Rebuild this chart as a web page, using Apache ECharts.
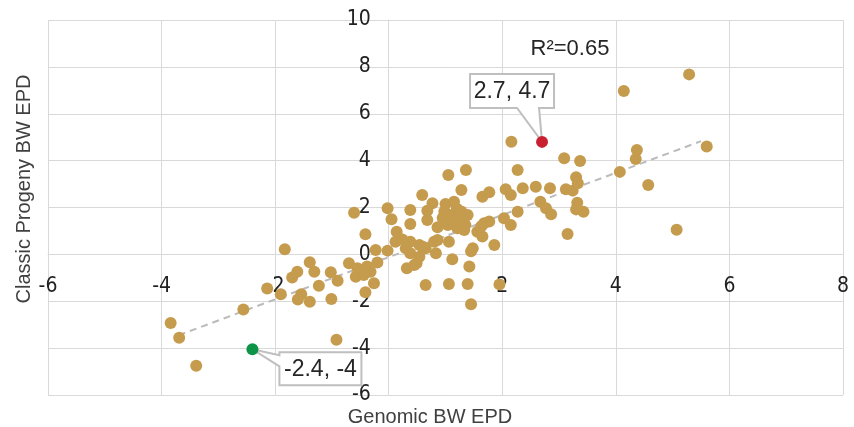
<!DOCTYPE html>
<html><head><meta charset="utf-8">
<script src="https://cdn.jsdelivr.net/npm/echarts@6/dist/echarts.min.js"></script>
<style>html,body{margin:0;padding:0;background:#fff}#c{width:854px;height:427px}</style>
</head><body><div id="c"></div>
<script>
// Genomic BW EPD (x) and Classic Progeny BW EPD (y) for the gold points
const genomicBW = [-3.84,-3.69,-3.39,-2.56,-2.14,-1.83,-1.90,-1.70,-1.61,-1.39,
  -1.31,-1.54,-1.60,-1.39,-1.23,-1.02,-0.90,-1.01,-0.92,-0.70,
  -0.61,-0.41,-0.23,-0.02,-0.55,-0.38,-0.20,-0.32,-0.58,-0.44,
  -0.26,-0.41,-0.02,0.05,0.38,0.38,0.14,0.59,0.12,0.24,
  0.38,0.54,0.65,0.30,0.38,0.54,0.49,0.32,0.45,0.65,
  1.36,1.05,1.28,1.65,1.77,2.06,0.77,0.68,1.00,1.15,
  0.98,1.10,1.28,1.39,0.68,0.86,1.04,1.21,1.33,1.68,
  1.77,2.03,1.56,1.65,1.86,0.80,0.86,1.06,0.60,0.83,
  1.12,1.48,1.42,1.06,1.39,1.95,1.45,2.16,3.09,3.37,
  2.27,2.15,2.36,2.59,2.84,3.12,3.24,3.30,3.33,2.67,
  2.77,2.86,3.32,3.30,3.43,2.27,2.15,3.15,4.14,5.29,
  5.60,4.37,4.35,4.07,4.57,5.07,1.63,1.45,1.20,1.30,
  1.12,0.95,1.35,1.25];
const progenyBW = [-2.93,-3.56,-4.75,-2.35,-1.46,0.22,-1.70,-0.99,-0.74,-0.34,
  -0.74,-1.70,-1.93,-2.02,-1.34,-0.76,-1.13,-1.90,-3.64,-0.38,
  1.78,0.86,0.19,0.16,-0.59,-0.52,-0.35,-0.74,-0.95,-0.88,
  -1.23,-1.62,1.97,1.50,1.89,1.30,0.97,2.53,0.54,0.64,
  0.54,0.40,0.26,0.26,0.05,-0.10,-0.38,-0.59,-0.45,-1.31,
  3.60,3.39,2.75,2.46,2.65,2.78,2.18,1.86,2.15,2.25,
  1.83,1.68,1.83,1.68,1.47,1.16,1.25,1.11,1.04,1.33,
  1.40,1.54,0.97,0.76,0.40,0.54,0.61,0.54,0.33,0.05,
  -0.21,0.26,-0.52,-1.26,-1.26,-1.28,-2.13,4.81,4.10,3.98,
  3.60,2.53,2.82,2.89,2.82,2.78,2.72,3.29,3.03,2.25,
  1.97,1.71,2.20,1.92,1.82,1.82,1.25,0.87,6.97,7.68,
  4.60,4.45,4.07,3.52,2.96,1.05,1.20,0.13,1.95,1.45,
  1.40,1.55,1.25,1.60];
// Highlighted animals
const highlightX = [2.7, -2.4];
const highlightY = [4.8, -4.05];
const highlightColors = ['#C8202F', '#0E9447'];
const highlightLabels = ['2.7, 4.7', '-2.4, -4'];
// Linear trend line end points
const trendX = [-3.7, 5.5];
const trendY = [-3.45, 4.83];
const r2Text = 'R\u00B2=0.65';
const xTitle = 'Genomic BW EPD';
const yTitle = 'Classic Progeny BW EPD';

const gold = '#C59B4E';
const gridColor = '#D9D9D9';
const tickFont = "'Liberation Sans Narrow','DejaVu Sans Condensed',sans-serif";
const textFont = "'Liberation Sans',Arial,sans-serif";

const chart = echarts.init(document.getElementById('c'), null, {renderer: 'canvas'});
const goldData = genomicBW.map((x, i) => [x, progenyBW[i]]);
const trendData = trendX.map((x, i) => [x, trendY[i]]);

chart.setOption({
  animation: false,
  backgroundColor: '#fff',
  grid: {left: 48, right: 11, top: 20, bottom: 32, containLabel: false, outerBoundsMode: 'none'},
  xAxis: {
    type: 'value', min: -6, max: 8, interval: 2, position: 'bottom',
    axisLine: {show: true, onZero: false, lineStyle: {color: gridColor, width: 1}},
    axisTick: {show: false},
    axisLabel: {margin: 22, fontSize: 21, fontFamily: tickFont, color: '#222',
      formatter: v => (v === 0 ? '' : String(v))},
    splitLine: {show: true, lineStyle: {color: gridColor, width: 1}}
  },
  yAxis: {
    type: 'value', min: -6, max: 10, interval: 2, position: 'left',
    axisLine: {show: true, onZero: false, lineStyle: {color: gridColor, width: 1}},
    axisTick: {show: false},
    axisLabel: {margin: 18, fontSize: 21, fontFamily: tickFont, color: '#222'},
    splitLine: {show: true, lineStyle: {color: gridColor, width: 1}}
  },
  series: [
    {type: 'line', data: trendData, symbol: 'none', silent: true, z: 2,
      lineStyle: {color: '#BBBBBB', width: 2, type: [7, 5]}},
    {type: 'scatter', data: goldData, symbolSize: 12, z: 3,
      itemStyle: {color: gold, opacity: 1}},
    {type: 'scatter', z: 5, symbolSize: 12,
      data: highlightX.map((x, i) => ({value: [x, highlightY[i]], itemStyle: {color: highlightColors[i], opacity: 1}}))}
  ]
});

// Move both axes so that they cross at zero
const origin = chart.convertToPixel({gridIndex: 0}, [0, 0]);
const corner = chart.convertToPixel({gridIndex: 0}, [-6, -6]);
chart.setOption({
  xAxis: {offset: -(corner[1] - origin[1])},
  yAxis: {offset: -(origin[0] - corner[0])}
});

// Callouts anchored on the highlighted points
const graphics = [];
highlightX.forEach((x, i) => {
  const p = chart.convertToPixel({gridIndex: 0}, [x, highlightY[i]]);
  let L, T, W, H, pts;
  if (i === 0) {
    W = 84; H = 34; L = p[0] - 72; T = p[1] - 68;
    const B = T + H, R = L + W;
    pts = [[L, T], [R, T], [R, B], [p[0] - 3, B], [p[0], p[1]], [p[0] - 25, B], [L, B]];
  } else {
    W = 82; H = 33; L = p[0] + 27; T = p[1] + 3;
    const B = T + H, R = L + W;
    pts = [[L, T], [R, T], [R, B], [L, B], [L, T + 14], [p[0], p[1]], [L, T + 3]];
  }
  graphics.push({type: 'polygon', z: 1, silent: true,
    shape: {points: pts}, style: {fill: '#fff', stroke: '#BFBFBF', lineWidth: 2}});
  graphics.push({type: 'text', z: 6, silent: true, x: L + W / 2, y: T + H / 2 + 1,
    style: {text: highlightLabels[i], fill: '#262626', font: '23px ' + textFont,
      textAlign: 'center', textVerticalAlign: 'middle'}});
});
graphics.push({type: 'text', silent: true, z: 6, x: 570, y: 49,
  style: {text: r2Text, fill: '#262626', font: '22px ' + textFont, textAlign: 'center', textVerticalAlign: 'middle'}});
graphics.push({type: 'text', silent: true, z: 6, x: 430, y: 417,
  style: {text: xTitle, fill: '#404040', font: '20px ' + textFont, textAlign: 'center', textVerticalAlign: 'middle'}});
graphics.push({type: 'text', silent: true, z: 6, x: 24, y: 189, rotation: Math.PI / 2,
  style: {text: yTitle, fill: '#404040', font: '20px ' + textFont, textAlign: 'center', textVerticalAlign: 'middle'}});
chart.setOption({graphic: graphics});
</script>
</body></html>
